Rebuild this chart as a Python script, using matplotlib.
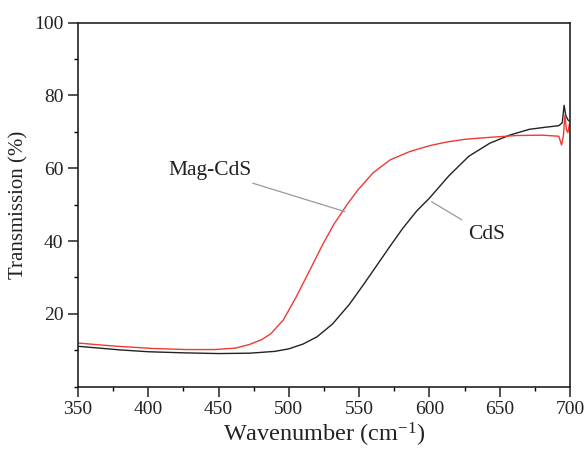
import matplotlib
matplotlib.use("Agg")
import matplotlib.pyplot as plt
from matplotlib.ticker import MultipleLocator

plt.rcParams["font.family"] = ["Liberation Serif", "DejaVu Serif"]
plt.rcParams["mathtext.fontset"] = "custom"
plt.rcParams["mathtext.rm"] = "Liberation Serif"
plt.rcParams["mathtext.it"] = "Liberation Serif:italic"

# CdS (black)
cds_w = [350, 365, 380, 400, 425, 450, 472, 490, 500, 510, 520, 531, 543, 553, 562,
         572, 581, 591, 600, 614, 628, 643, 657, 671, 683, 692, 694.5, 695.8, 697, 698.5, 700]
cds_t = [11.1, 10.6, 10.1, 9.6, 9.3, 9.1, 9.2, 9.7, 10.4, 11.7, 13.7, 17.2, 22.6, 28.0, 33.0,
         38.6, 43.5, 48.3, 51.8, 58.0, 63.3, 66.9, 69.1, 70.7, 71.3, 71.7, 72.5, 77.3, 74.5, 73.3, 72.8]

# Mag-CdS (red)
mag_w = [350, 365, 378, 403, 427, 447, 462, 472, 481, 487, 496, 505, 515, 524, 532, 541,
         549, 560, 572, 586, 600, 612, 626, 643, 662, 680, 692, 694, 695.3, 696.4, 697.5,
         698.5, 699.5]
mag_t = [12.0, 11.5, 11.1, 10.5, 10.2, 10.2, 10.6, 11.6, 13.0, 14.5, 18.3, 24.5, 32.1, 39.0,
         44.6, 49.8, 54.0, 58.8, 62.3, 64.6, 66.2, 67.2, 68.0, 68.5, 69.0, 69.1, 68.8, 66.4,
         69.0, 74.6, 70.5, 69.8, 72.0]

fig = plt.figure(figsize=(5.88, 4.5), dpi=100)
ax = fig.add_axes([0.1327, 0.1407, 0.8367, 0.8089])

ax.plot(cds_w, cds_t, color="#222222", lw=1.0)
ax.plot(mag_w, mag_t, color="#ee3a33", lw=1.0)

ax.set_xlim(350, 700)
ax.set_ylim(0, 100)
ax.set_xticks(range(350, 701, 50))
ax.set_yticks([20, 40, 60, 80, 100])
ax.xaxis.set_minor_locator(MultipleLocator(25))
ax.yaxis.set_minor_locator(MultipleLocator(10))
ax.tick_params(which="major", direction="out", length=7, width=1.1, labelsize=14, colors="#222222")
ax.tick_params(which="minor", direction="out", length=3, width=1.0)
ax.tick_params(top=False, right=False, which="both")
for s in ax.spines.values():
    s.set_linewidth(1.2)
    s.set_color("#222222")

ax.set_xlabel("Wavenumber (cm$^{-1}$)", fontsize=17.5, color="#222222", labelpad=2)
ax.set_ylabel("Transmission (%)", fontsize=15, color="#222222", labelpad=4)

ax.annotate("Mag-CdS", xy=(539.9, 48.1), xytext=(444, 59.5), fontsize=15.5,
            ha="center", va="center", color="#222222",
            arrowprops=dict(arrowstyle="-", color="#999999", lw=0.9, shrinkA=2, shrinkB=0))
ax.annotate("CdS", xy=(601.6, 50.8), xytext=(641, 41.7), fontsize=15.5,
            ha="center", va="center", color="#222222",
            arrowprops=dict(arrowstyle="-", color="#999999", lw=0.9, shrinkA=4, shrinkB=0))

fig.savefig("out.png", dpi=100)
